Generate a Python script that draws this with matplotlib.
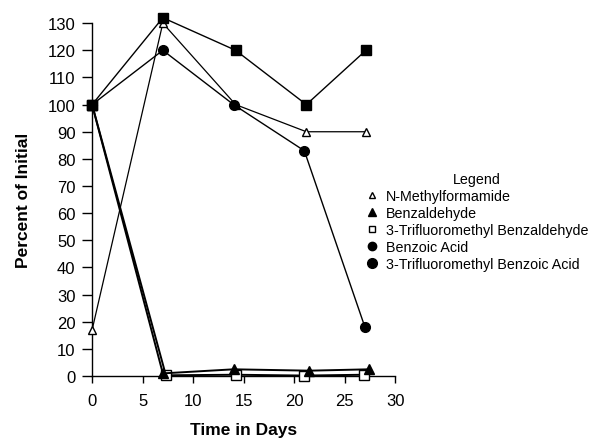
import matplotlib
matplotlib.use("Agg")
import matplotlib.pyplot as plt
from matplotlib.lines import Line2D

plt.rcParams['font.family'] = ['Liberation Sans', 'DejaVu Sans']

# Data
nmf_x = [0, 7, 14.2, 21.2, 27.1]
nmf_y = [17, 130, 100, 90, 90]

benzald_x = [0, 7, 14, 21.5, 27.4]
benzald_y = [100, 1, 2.5, 2, 2.5]

tfm_benzald_x = [0, 7.3, 14.2, 21, 26.9]
tfm_benzald_y = [100, 0.3, 0.5, 0.2, 0.5]

benzoic_x = [0, 7, 14, 21, 27]
benzoic_y = [100, 120, 100, 83, 18]

tfm_benzoic_x = [0, 7, 14.2, 21.2, 27.1]
tfm_benzoic_y = [100, 132, 120, 100, 120]

labels = ["N-Methylformamide", "Benzaldehyde", "3-Trifluoromethyl Benzaldehyde",
          "Benzoic Acid", "3-Trifluoromethyl Benzoic Acid"]

xticks = [0, 5, 10, 15, 20, 25, 30]
yticks = list(range(0, 131, 10))

fig = plt.figure(figsize=(5.98, 4.39), dpi=100)
ax = fig.add_axes([0.154, 0.141, 0.507, 0.804])

ax.plot(nmf_x, nmf_y, color='black', lw=0.9, marker='^', ms=6,
        mfc='white', mec='black', zorder=3, clip_on=False)
ax.plot(tfm_benzald_x, tfm_benzald_y, color='black', lw=1.4, marker='s', ms=7,
        mfc='white', mec='black', zorder=3, clip_on=False)
ax.plot(benzald_x, benzald_y, color='black', lw=1.4, marker='^', ms=7,
        mfc='black', mec='black', zorder=4, clip_on=False)
ax.plot(benzoic_x, benzoic_y, color='black', lw=1.0, marker='o', ms=7,
        mfc='black', mec='black', zorder=4, clip_on=False)
ax.plot(tfm_benzoic_x, tfm_benzoic_y, color='black', lw=1.0, marker='s', ms=7,
        mfc='black', mec='black', zorder=4, clip_on=False)

ax.set_xlim(0, 30)
ax.set_ylim(0, 130)
ax.set_xticks(xticks)
ax.set_yticks(yticks)
ax.spines['top'].set_visible(False)
ax.spines['right'].set_visible(False)
ax.spines['left'].set_linewidth(1.0)
ax.spines['bottom'].set_linewidth(1.0)
ax.tick_params(axis='y', labelsize=12, length=7, width=1.0, direction='out', pad=5)
ax.tick_params(axis='x', labelsize=12, length=5, width=1.0, direction='out', pad=7)

ax.set_xlabel("Time in Days", fontsize=12.5, fontweight='bold', labelpad=10)
ax.set_ylabel("Percent of Initial", fontsize=12.5, fontweight='bold', labelpad=12)

handles = [
    Line2D([], [], ls='none', marker='^', ms=5, mfc='white', mec='black'),
    Line2D([], [], ls='none', marker='^', ms=6, mfc='black', mec='black'),
    Line2D([], [], ls='none', marker='s', ms=5, mfc='white', mec='black'),
    Line2D([], [], ls='none', marker='o', ms=6, mfc='black', mec='black'),
    Line2D([], [], ls='none', marker='o', ms=7, mfc='black', mec='black'),
]
leg = fig.legend(handles, labels, title="Legend", loc='upper left',
                 bbox_to_anchor=(0.593, 0.628), frameon=False, fontsize=10.3,
                 title_fontsize=10.3, handlelength=1.0, handletextpad=0.5,
                 labelspacing=0.2, borderpad=0.2)

fig.savefig("out.png", dpi=100)
